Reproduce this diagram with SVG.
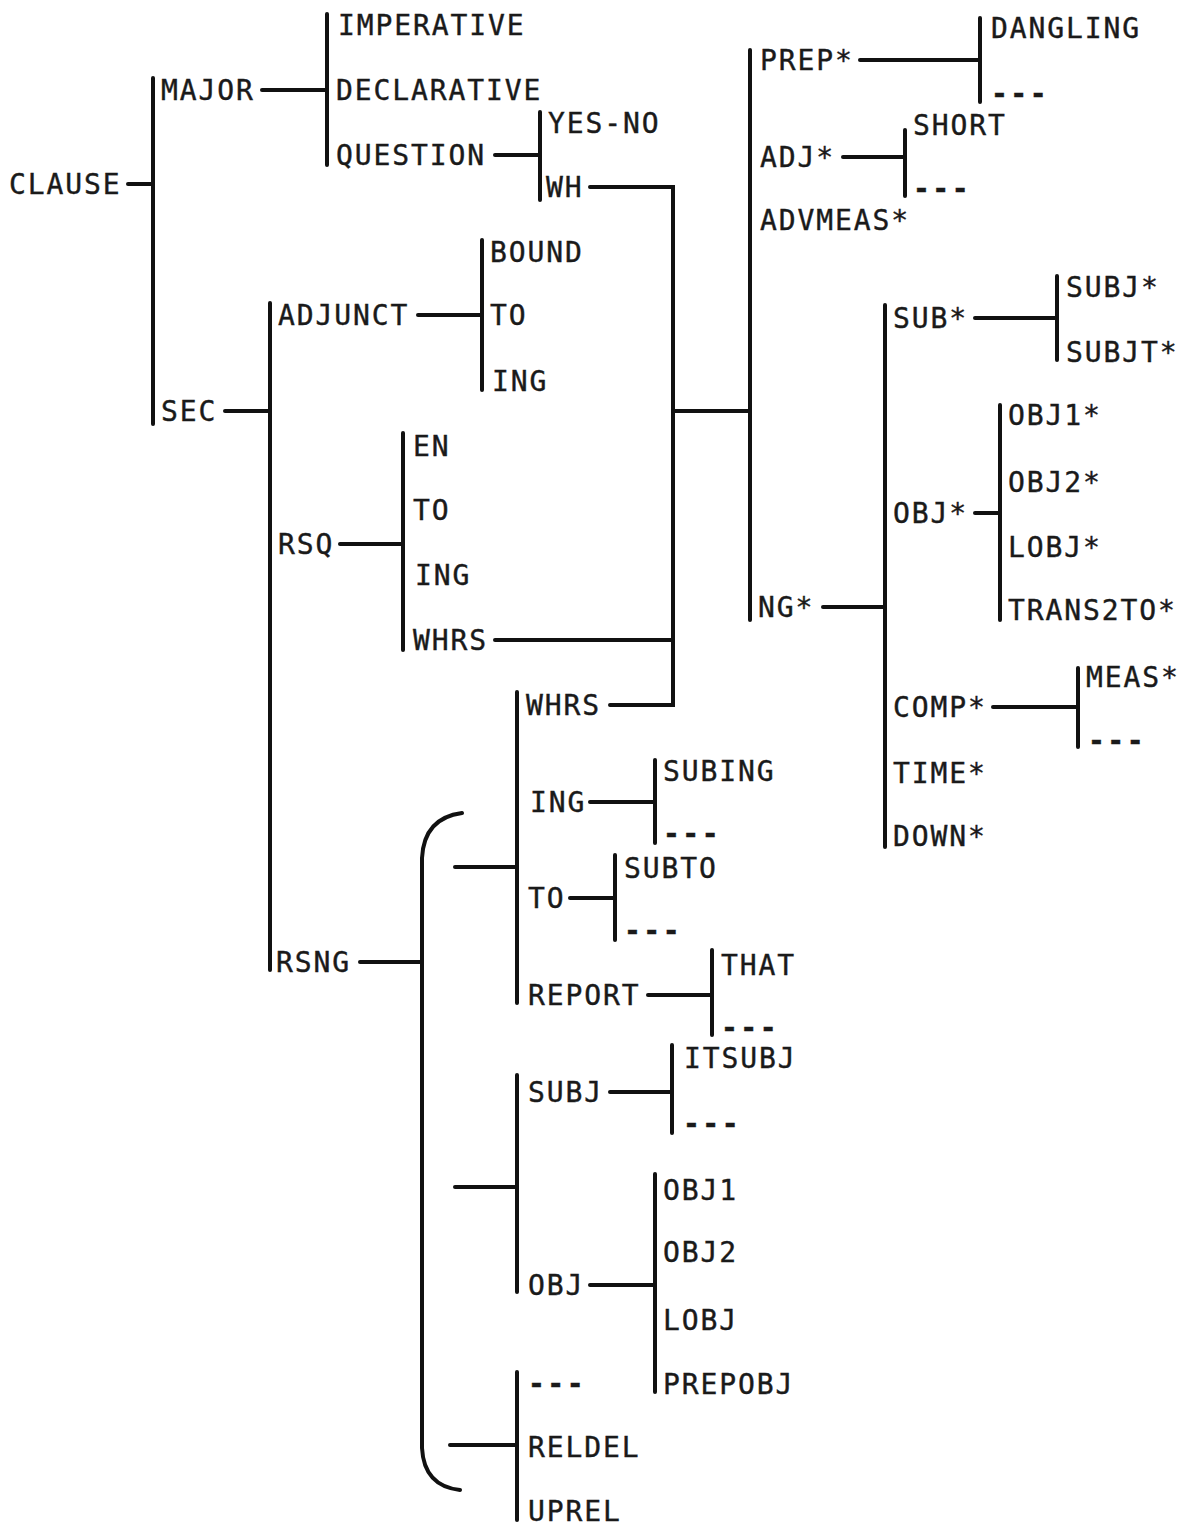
<svg xmlns="http://www.w3.org/2000/svg" width="1186" height="1528" viewBox="0 0 1186 1528">
<style>
text{font-family:"DejaVu Sans Mono","Liberation Mono",monospace;font-size:28px;letter-spacing:1.9px;fill:#1a1a1a;stroke:#1a1a1a;stroke-width:0.4}
text.d{font-weight:bold;letter-spacing:2.5px}
.c path,.c line{stroke:#111;stroke-width:4;fill:none;stroke-linecap:round}
</style>
<rect width="1186" height="1528" fill="#fff"/>
<g class="c" id="connectors">
<line x1="128" y1="184" x2="153" y2="184"/>
<line x1="153" y1="78" x2="153" y2="424"/>
<line x1="262" y1="90" x2="327" y2="90"/>
<line x1="327" y1="14" x2="327" y2="165"/>
<line x1="495" y1="155" x2="540" y2="155"/>
<line x1="540" y1="112" x2="540" y2="200"/>
<path d="M590 187 H673 V705 H610"/>
<line x1="495" y1="640" x2="673" y2="640"/>
<line x1="673" y1="411" x2="750" y2="411"/>
<line x1="750" y1="50" x2="750" y2="620"/>
<line x1="860" y1="60" x2="980" y2="60"/>
<line x1="980" y1="18" x2="980" y2="102"/>
<line x1="843" y1="157" x2="905" y2="157"/>
<line x1="905" y1="130" x2="905" y2="196"/>
<line x1="823" y1="607" x2="885" y2="607"/>
<line x1="885" y1="305" x2="885" y2="847"/>
<line x1="975" y1="318" x2="1057" y2="318"/>
<line x1="1057" y1="276" x2="1057" y2="360"/>
<line x1="975" y1="513" x2="1000" y2="513"/>
<line x1="1000" y1="405" x2="1000" y2="620"/>
<line x1="993" y1="707" x2="1078" y2="707"/>
<line x1="1078" y1="668" x2="1078" y2="747"/>
<line x1="225" y1="411" x2="270" y2="411"/>
<line x1="270" y1="303" x2="270" y2="970"/>
<line x1="418" y1="315" x2="482" y2="315"/>
<line x1="482" y1="240" x2="482" y2="390"/>
<line x1="340" y1="544" x2="403" y2="544"/>
<line x1="403" y1="433" x2="403" y2="650"/>
<line x1="360" y1="962" x2="422" y2="962"/>
<path d="M462 813 Q424 818 422 858 V1448 Q424 1486 460 1490"/>
<line x1="455" y1="867" x2="517" y2="867"/>
<line x1="455" y1="1187" x2="517" y2="1187"/>
<line x1="450" y1="1445" x2="517" y2="1445"/>
<line x1="517" y1="692" x2="517" y2="1003"/>
<line x1="590" y1="802" x2="655" y2="802"/>
<line x1="655" y1="760" x2="655" y2="843"/>
<line x1="570" y1="898" x2="615" y2="898"/>
<line x1="615" y1="855" x2="615" y2="940"/>
<line x1="648" y1="995" x2="712" y2="995"/>
<line x1="712" y1="950" x2="712" y2="1035"/>
<line x1="517" y1="1075" x2="517" y2="1292"/>
<line x1="610" y1="1092" x2="672" y2="1092"/>
<line x1="672" y1="1045" x2="672" y2="1133"/>
<line x1="590" y1="1285" x2="655" y2="1285"/>
<line x1="655" y1="1174" x2="655" y2="1392"/>
<line x1="517" y1="1372" x2="517" y2="1520"/>
</g>
<g id="n-clause"><text x="9" y="194">CLAUSE</text></g>
<g id="n-major"><text x="161" y="100">MAJOR</text></g>
<g id="n-imperative"><text x="338" y="35">IMPERATIVE</text></g>
<g id="n-declarative"><text x="336" y="100">DECLARATIVE</text></g>
<g id="n-question"><text x="336" y="165">QUESTION</text></g>
<g id="n-yesno"><text x="548" y="133">YES-NO</text></g>
<g id="n-wh"><text x="546" y="197">WH</text></g>
<g id="n-prep"><text x="760" y="70">PREP*</text></g>
<g id="n-dangling"><text x="991" y="38">DANGLING</text></g>
<g id="n-prep-none"><text class="d" x="991" y="103">---</text></g>
<g id="n-adj"><text x="760" y="167">ADJ*</text></g>
<g id="n-short"><text x="913" y="135">SHORT</text></g>
<g id="n-adj-none"><text class="d" x="913" y="198">---</text></g>
<g id="n-advmeas"><text x="760" y="230">ADVMEAS*</text></g>
<g id="n-ng"><text x="758" y="617">NG*</text></g>
<g id="n-sub"><text x="893" y="328">SUB*</text></g>
<g id="n-subj"><text x="1066" y="297">SUBJ*</text></g>
<g id="n-subjt"><text x="1066" y="362">SUBJT*</text></g>
<g id="n-obj"><text x="893" y="523">OBJ*</text></g>
<g id="n-obj1s"><text x="1008" y="425">OBJ1*</text></g>
<g id="n-obj2s"><text x="1008" y="492">OBJ2*</text></g>
<g id="n-lobjs"><text x="1008" y="557">LOBJ*</text></g>
<g id="n-trans2to"><text x="1008" y="620">TRANS2TO*</text></g>
<g id="n-comp"><text x="893" y="717">COMP*</text></g>
<g id="n-meas"><text x="1086" y="687">MEAS*</text></g>
<g id="n-comp-none"><text class="d" x="1088" y="750">---</text></g>
<g id="n-time"><text x="893" y="783">TIME*</text></g>
<g id="n-down"><text x="893" y="846">DOWN*</text></g>
<g id="n-sec"><text x="161" y="421">SEC</text></g>
<g id="n-adjunct"><text x="278" y="325">ADJUNCT</text></g>
<g id="n-bound"><text x="490" y="262">BOUND</text></g>
<g id="n-adj-to"><text x="490" y="325">TO</text></g>
<g id="n-adj-ing"><text x="492" y="391">ING</text></g>
<g id="n-rsq"><text x="278" y="554">RSQ</text></g>
<g id="n-en"><text x="413" y="456">EN</text></g>
<g id="n-rsq-to"><text x="413" y="520">TO</text></g>
<g id="n-rsq-ing"><text x="415" y="585">ING</text></g>
<g id="n-rsq-whrs"><text x="413" y="650">WHRS</text></g>
<g id="n-rsng"><text x="276" y="972">RSNG</text></g>
<g id="n-rsng-whrs"><text x="526" y="715">WHRS</text></g>
<g id="n-rsng-ing"><text x="530" y="812">ING</text></g>
<g id="n-subing"><text x="663" y="781">SUBING</text></g>
<g id="n-ing-none"><text class="d" x="663" y="843">---</text></g>
<g id="n-rsng-to"><text x="528" y="908">TO</text></g>
<g id="n-subto"><text x="624" y="878">SUBTO</text></g>
<g id="n-to-none"><text class="d" x="624" y="940">---</text></g>
<g id="n-report"><text x="528" y="1005">REPORT</text></g>
<g id="n-that"><text x="721" y="975">THAT</text></g>
<g id="n-report-none"><text class="d" x="721" y="1037">---</text></g>
<g id="n-rsng-subj"><text x="528" y="1102">SUBJ</text></g>
<g id="n-itsubj"><text x="684" y="1068">ITSUBJ</text></g>
<g id="n-subj-none"><text class="d" x="683" y="1133">---</text></g>
<g id="n-rsng-obj"><text x="528" y="1295">OBJ</text></g>
<g id="n-obj1"><text x="663" y="1200">OBJ1</text></g>
<g id="n-obj2"><text x="663" y="1262">OBJ2</text></g>
<g id="n-lobj"><text x="663" y="1330">LOBJ</text></g>
<g id="n-prepobj"><text x="663" y="1394">PREPOBJ</text></g>
<g id="n-rel-none"><text class="d" x="528" y="1393">---</text></g>
<g id="n-reldel"><text x="528" y="1457">RELDEL</text></g>
<g id="n-uprel"><text x="528" y="1521">UPREL</text></g>
</svg>
